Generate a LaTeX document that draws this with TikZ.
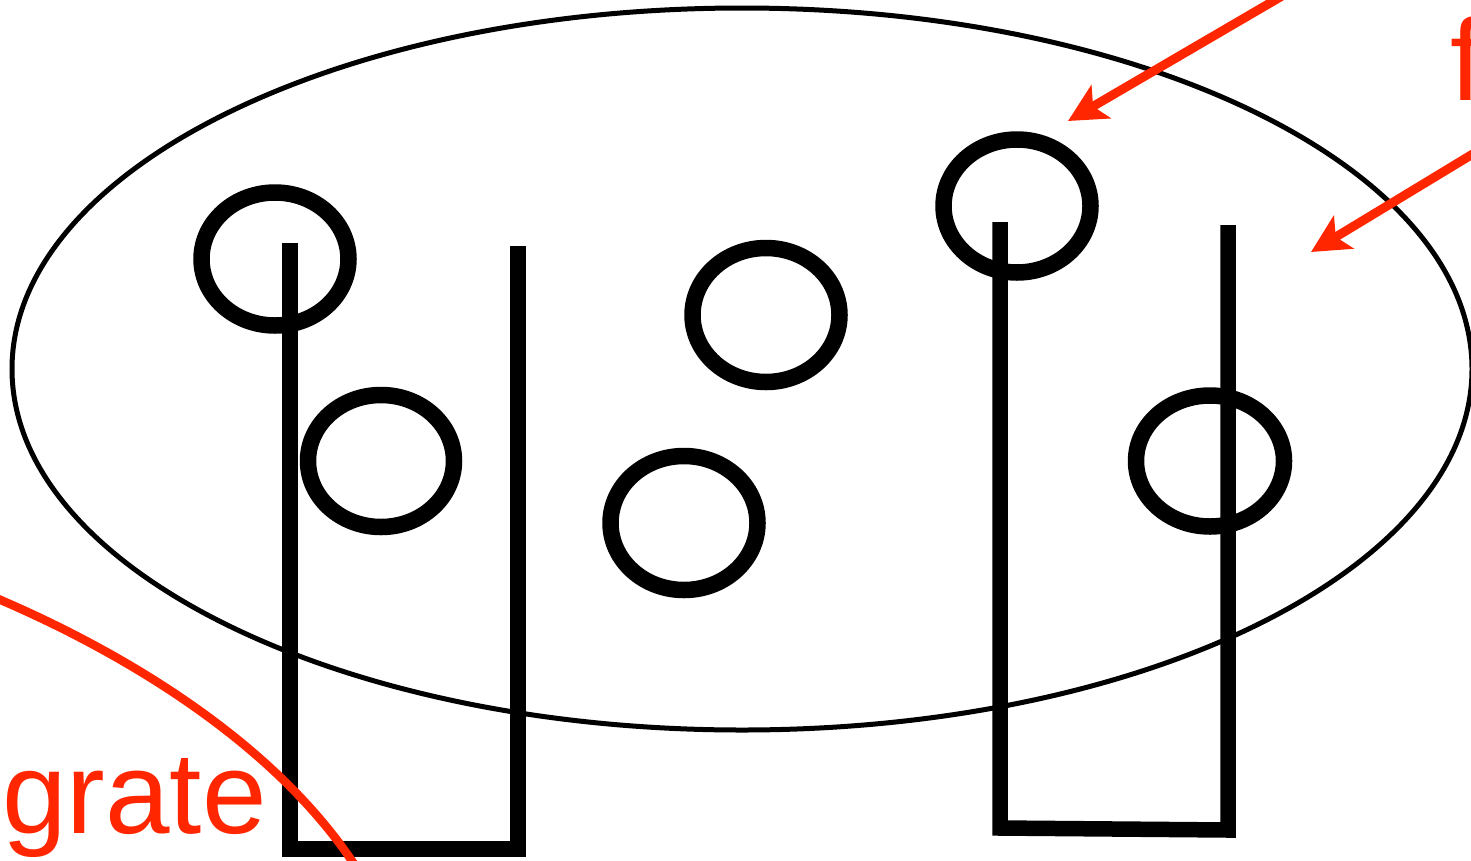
\documentclass[tikz,border=0pt]{standalone}
\usepackage{fontspec}
\setmainfont{Liberation Sans}
\usetikzlibrary{arrows.meta}
\definecolor{hired}{RGB}{255,38,0}
\begin{document}
\begin{tikzpicture}[x=1pt,y=-1pt,
  ring/.style={draw=black,line width=16.5pt},
  ushape/.style={draw=black,line width=15.5pt,line join=miter},
  redarrow/.style={draw=hired,line width=9pt,-{Stealth[length=38pt,width=38pt,inset=9pt]}},
  redline/.style={draw=hired,line width=8.5pt},
  redtext/.style={text=hired,font=\fontsize{116}{120}\selectfont,inner sep=0pt}]
\useasboundingbox (0,0) rectangle (1471,860);
% big ellipse
\draw[line width=5pt] (742,369) ellipse [x radius=730, y radius=361];
% rings
\draw[ring] (275,259) ellipse [x radius=73.5, y radius=66.5];
\draw[ring] (381,461) ellipse [x radius=73, y radius=66];
\draw[ring] (766,315) ellipse [x radius=73.5, y radius=67];
\draw[ring] (684,523) ellipse [x radius=73.5, y radius=67];
\draw[ring] (1017,206) ellipse [x radius=73.5, y radius=66.5];
\draw[ring] (1210,461) ellipse [x radius=74, y radius=65.5];
% U shapes
\coordinate (ua1) at (290,243);
\coordinate (ua2) at (290,849);
\coordinate (ua3) at (518,849);
\coordinate (ua4) at (518,246);
\draw[ushape] (ua1) -- (ua2) -- (ua3) -- (ua4);
\coordinate (ub1) at (1000,222);
\coordinate (ub2) at (1000,828);
\coordinate (ub3) at (1228,830);
\coordinate (ub4) at (1228,225);
\draw[ushape] (ub1) -- (ub2) -- (ub3) -- (ub4);
% red arrows
\coordinate (a1s) at (1282,-4);
\coordinate (a1e) at (1068,121);
\coordinate (a2s) at (1476,152);
\coordinate (a2e) at (1311,252);
\draw[redarrow] (a1s) -- (a1e);
\draw[redarrow] (a2s) -- (a2e);
% red curve
\coordinate (c1) at (-4,598);
\coordinate (c2) at (354,864);
\draw[redline] (c1) .. controls (130,655) and (275,745) .. (c2);
% texts
\node[redtext,anchor=base west] (ftxt) at (1450,100) {f};
\node[redtext,anchor=base west] (grate) at (2,833) {grate};
\end{tikzpicture}
\end{document}
